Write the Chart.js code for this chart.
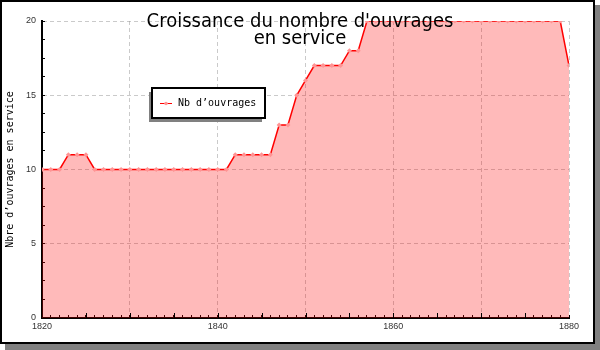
<!DOCTYPE html>
<html>
<head>
<meta charset="utf-8">
<script src="https://cdn.jsdelivr.net/npm/chart.js@4.4.1/dist/chart.umd.min.js"></script>
<style>
  html, body { margin: 0; padding: 0; background: #fff; }
  #wrap { width: 600px; height: 350px; }
</style>
</head>
<body>
<div id="wrap"><canvas id="myChart" width="600" height="350"></canvas></div>
<script>
// DATA
const years = [
  1820, 1821, 1822, 1823, 1824, 1825, 1826, 1827, 1828, 1829,
  1830, 1831, 1832, 1833, 1834, 1835, 1836, 1837, 1838, 1839,
  1840, 1841, 1842, 1843, 1844, 1845, 1846, 1847, 1848, 1849,
  1850, 1851, 1852, 1853, 1854, 1855, 1856, 1857, 1858, 1859,
  1860, 1861, 1862, 1863, 1864, 1865, 1866, 1867, 1868, 1869,
  1870, 1871, 1872, 1873, 1874, 1875, 1876, 1877, 1878, 1879,
  1880
];
const nbOuvrages = [
  10, 10, 10, 11, 11, 11, 10, 10, 10, 10,
  10, 10, 10, 10, 10, 10, 10, 10, 10, 10,
  10, 10, 11, 11, 11, 11, 11, 13, 13, 15,
  16, 17, 17, 17, 17, 18, 18, 20, 20, 20,
  20, 20, 20, 20, 20, 20, 20, 20, 20, 20,
  20, 20, 20, 20, 20, 20, 20, 20, 20, 20,
  17
];
const xTickLabels = [1820, 1840, 1860, 1880];
const xGridYears = [1830, 1840, 1850, 1860, 1870, 1880];
const xMajorTicks = [1825, 1830, 1835, 1840, 1845, 1850, 1855, 1860, 1865, 1870, 1875];
const yTickLabels = [0, 5, 10, 15, 20];
const titleLines = ["Croissance du nombre d'ouvrages", 'en service'];

const GRID = 'rgba(150, 150, 150, 0.5)';
const MONO = '"DejaVu Sans Mono", monospace';

// FRAME WITH DROP SHADOW
const framePlugin = {
  id: 'frame',
  beforeDraw(chart) {
    const ctx = chart.ctx;
    ctx.save();
    ctx.fillStyle = '#fff';
    ctx.fillRect(0, 0, 600, 350);
    ctx.fillStyle = '#808080';
    ctx.fillRect(595, 5, 5, 345);
    ctx.fillRect(5, 344, 595, 6);
    ctx.restore();
  },
  afterDraw(chart) {
    const ctx = chart.ctx;
    ctx.save();
    ctx.strokeStyle = '#000';
    ctx.lineWidth = 2;
    ctx.strokeRect(1, 1, 593, 342);
    ctx.restore();
  }
};

// LONGER TICKS EVERY 5 YEARS
const majorTicksPlugin = {
  id: 'majorTicks',
  afterDraw(chart) {
    const ctx = chart.ctx;
    const xs = chart.scales.x;
    const bottom = chart.chartArea.bottom;
    ctx.save();
    ctx.strokeStyle = '#000';
    ctx.lineWidth = 1;
    ctx.beginPath();
    xMajorTicks.forEach((yr) => {
      const px = Math.round(xs.getPixelForValue(yr)) + 0.5;
      ctx.moveTo(px, bottom);
      ctx.lineTo(px, bottom - 5);
    });
    ctx.stroke();
    ctx.restore();
  }
};

// LEGEND BOX INSIDE THE PLOT
const legendBoxPlugin = {
  id: 'legendBox',
  afterDatasetsDraw(chart) {
    const ctx = chart.ctx;
    const ds = chart.data.datasets[0];
    const x = 152, y = 88, w = 113, h = 30;
    ctx.save();
    ctx.fillStyle = '#808080';
    ctx.fillRect(x - 3, y + 4, w, h);
    ctx.fillStyle = '#fff';
    ctx.fillRect(x, y, w, h);
    ctx.strokeStyle = '#000';
    ctx.lineWidth = 2;
    ctx.strokeRect(x, y, w, h);
    ctx.strokeStyle = ds.borderColor;
    ctx.lineWidth = 1;
    ctx.beginPath();
    ctx.moveTo(160, 103.5);
    ctx.lineTo(172, 103.5);
    ctx.stroke();
    ctx.fillStyle = ds.pointBackgroundColor;
    ctx.beginPath();
    ctx.arc(166, 103.5, 1.8, 0, Math.PI * 2);
    ctx.fill();
    ctx.fillStyle = '#000';
    ctx.font = '10px ' + MONO;
    ctx.textBaseline = 'middle';
    ctx.fillText(ds.label, 178, 103.5);
    ctx.restore();
  }
};

// TITLE DRAWN OVER THE PLOT
const overlayTitle = {
  id: 'overlayTitle',
  afterDraw(chart) {
    const ctx = chart.ctx;
    ctx.save();
    ctx.font = '20px "DejaVu Sans Condensed", "DejaVu Sans"';
    ctx.fontStretch = 'condensed';
    ctx.fillStyle = '#000';
    ctx.textAlign = 'center';
    titleLines.forEach((line, i) => ctx.fillText(line, 300, 27 + i * 17));
    ctx.restore();
  }
};

const ctx = document.getElementById('myChart').getContext('2d');
const myChart = new Chart(ctx, {
  type: 'line',
  data: {
    datasets: [{
      label: 'Nb d\u2019ouvrages',
      data: years.map((yr, i) => ({ x: yr, y: nbOuvrages[i] })),
      borderColor: '#ff0000',
      borderWidth: 1.5,
      backgroundColor: 'rgba(255, 0, 0, 0.27)',
      fill: 'origin',
      tension: 0,
      pointStyle: 'rectRot',
      pointRadius: 2.5,
      pointBorderWidth: 0,
      pointBackgroundColor: '#ff9494',
      pointBorderColor: '#ff9494'
    }]
  },
  options: {
    responsive: false,
    animation: false,
    layout: { padding: { left: 0, top: 21, right: 31, bottom: 0 } },
    plugins: {
      legend: { display: false },
      title: { display: false },
      tooltip: { enabled: false }
    },
    scales: {
      x: {
        type: 'linear',
        min: 1820,
        max: 1880,
        afterFit: (scale) => { scale.height = 32 },
        border: { color: '#000', width: 2, dash: [4, 3] },
        grid: {
          color: (c) => xGridYears.includes(c.tick.value) ? GRID : 'rgba(0,0,0,0)',
          tickColor: '#000',
          tickLength: -3,
          tickBorderDash: []
        },
        ticks: {
          stepSize: 1,
          autoSkip: false,
          maxRotation: 0,
          padding: 6,
          color: '#333',
          font: { family: '"Liberation Sans"', size: 9 },
          callback: (v) => xTickLabels.includes(v) ? String(v) : ''
        }
      },
      y: {
        min: 0,
        max: 20,
        afterFit: (scale) => { scale.width = 42 },
        border: { color: '#000', width: 2, dash: [4, 3] },
        grid: {
          color: (c) => (c.tick.value !== 0 && yTickLabels.includes(c.tick.value)) ? GRID : 'rgba(0,0,0,0)',
          tickColor: '#000',
          tickLength: -3,
          tickBorderDash: []
        },
        ticks: {
          stepSize: 1.25,
          autoSkip: false,
          padding: 9,
          color: '#333',
          font: { family: '"Liberation Sans"', size: 9 },
          callback: (v) => yTickLabels.includes(v) ? String(v) : ''
        },
        title: {
          display: true,
          text: 'Nbre d\u2019ouvrages en service',
          color: '#000',
          font: { family: MONO, size: 10 },
          padding: { top: 4, bottom: 0 }
        }
      }
    }
  },
  plugins: [framePlugin, majorTicksPlugin, legendBoxPlugin, overlayTitle]
});
</script>
</body>
</html>
